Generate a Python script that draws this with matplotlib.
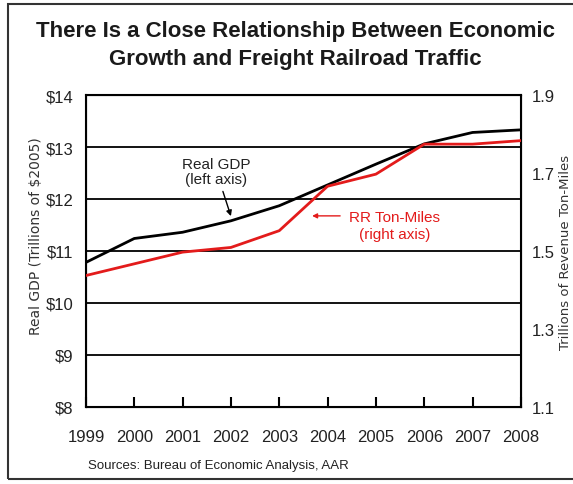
import matplotlib
matplotlib.use('Agg')
import matplotlib.pyplot as plt
from matplotlib.patches import Rectangle

plt.rcParams['font.family'] = ['Liberation Sans', 'DejaVu Sans']

# Data
years = [1999, 2000, 2001, 2002, 2003, 2004, 2005, 2006, 2007, 2008]
real_gdp = [10.78, 11.24, 11.36, 11.58, 11.87, 12.27, 12.67, 13.06, 13.28, 13.33]
ton_miles = [1.437, 1.467, 1.497, 1.509, 1.552, 1.666, 1.697, 1.774, 1.774, 1.783]

left_ticks = [8, 9, 10, 11, 12, 13, 14]
left_labels = ['$8', '$9', '$10', '$11', '$12', '$13', '$14']
right_ticks = [1.1, 1.3, 1.5, 1.7, 1.9]

fig = plt.figure(figsize=(5.73, 4.85), dpi=100)
ax = fig.add_axes([0.150, 0.159, 0.759, 0.643])

# outer frame
fig.patches.append(Rectangle((0.014, 0.010), 1.2, 0.979, transform=fig.transFigure,
                             fill=False, edgecolor='#333333', linewidth=1.5))

ax.plot(years, real_gdp, color='black', linewidth=2, zorder=4)
ax.set_xlim(1999, 2008)
ax.set_ylim(8, 14)
ax.set_yticks(left_ticks)
ax.set_yticklabels(left_labels, fontsize=12, color='#222222')
ax.set_xticks(years)
ax.set_xticklabels([str(y) for y in years], fontsize=12, color='#222222')
ax.tick_params(axis='x', direction='in', length=7, width=1.5, pad=16)
ax.tick_params(axis='y', length=0, pad=9)
ax.grid(axis='y', color='black', linewidth=1.3)
for s in ax.spines.values():
    s.set_linewidth(1.5)
ax.set_ylabel('Real GDP (Trillions of $2005)', fontsize=10, color='#333333',
              family='DejaVu Sans', labelpad=2, y=0.55)

ax2 = ax.twinx()
ax2.plot(years, ton_miles, color='#e31b1b', linewidth=2, zorder=5)
ax2.set_ylim(1.1, 1.9)
ax2.set_yticks(right_ticks)
ax2.set_yticklabels([f'{t:.1f}' for t in right_ticks], fontsize=12, color='#222222')
ax2.tick_params(axis='y', length=0, pad=8)
ax2.set_ylabel('Trillions of Revenue Ton-Miles', fontsize=9.5, color='#333333',
               family='DejaVu Sans', labelpad=3)

# annotations
ax.annotate('Real GDP\n(left axis)', xy=(2002.0, 11.67), xytext=(2001.7, 12.53),
            ha='center', va='center', fontsize=11, color='#222222', linespacing=1.1,
            arrowprops=dict(arrowstyle='-|>', color='black', lw=1, shrinkA=2,
                            shrinkB=0, mutation_scale=8))
ax2.annotate('', xy=(2003.68, 1.590), xytext=(2004.26, 1.590),
             arrowprops=dict(arrowstyle='-|>', color='#e31b1b', lw=1,
                             shrinkA=0, shrinkB=0, mutation_scale=7))
ax2.text(2005.39, 1.565, 'RR Ton-Miles\n(right axis)', ha='center', va='center',
         fontsize=11, color='#e31b1b', linespacing=1.25)

fig.text(0.515, 0.907, 'There Is a Close Relationship Between Economic\nGrowth and Freight Railroad Traffic',
         ha='center', va='center', fontsize=16, fontweight='bold', color='#1a1a1a',
         linespacing=1.45)
fig.text(0.153, 0.040, 'Sources: Bureau of Economic Analysis, AAR', ha='left', va='center',
         fontsize=9.5, color='#222222')

fig.savefig('out.png', dpi=100)
